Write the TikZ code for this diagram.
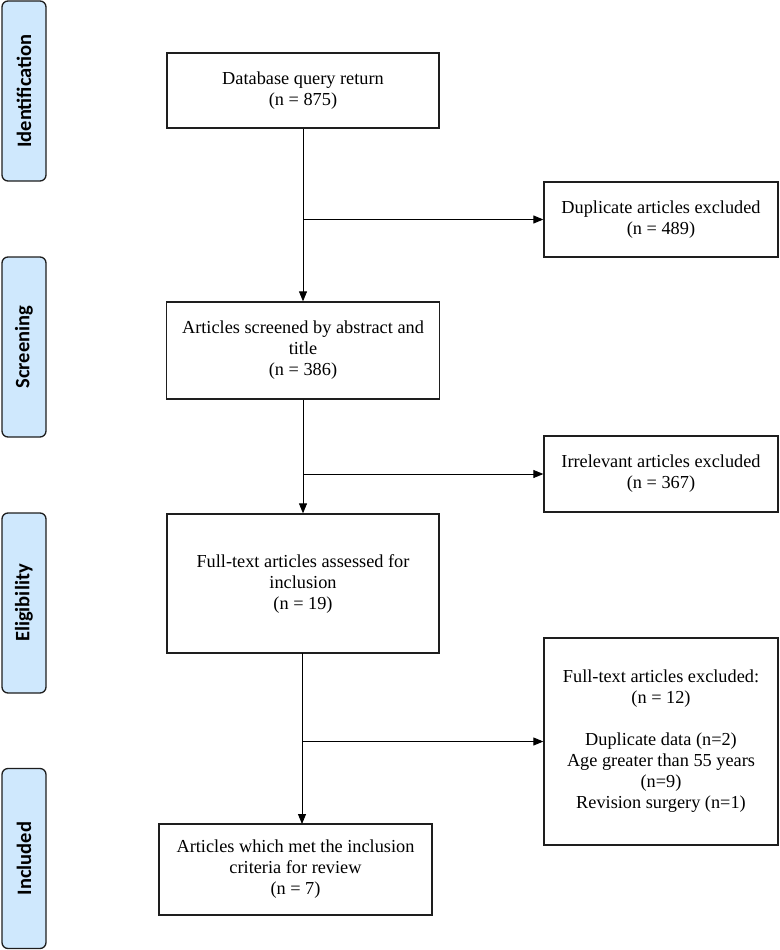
\documentclass[tikz,border=0pt]{standalone}
\usepackage{fontspec}
\setmainfont{Liberation Serif}
\newfontfamily\labfont{Carlito}
\usetikzlibrary{arrows.meta,positioning}
\definecolor{phasefill}{RGB}{207,232,253}
\definecolor{edgegray}{RGB}{30,30,30}
\begin{document}
\begin{tikzpicture}[x=1pt,y=-1pt,
  box/.style={draw=edgegray,line width=1.3pt,fill=white,inner sep=0pt,align=center,
    font=\fontsize{18.3}{21}\selectfont},
  phase/.style={draw=edgegray,line width=1.3pt,fill=phasefill,rounded corners=6pt,
    minimum width=44pt,minimum height=180pt,inner sep=0pt},
  phasetext/.style={rotate=90,font=\labfont\bfseries\fontsize{20.5}{24}\selectfont},
  conn/.style={draw=black,line width=0.9pt},
  arr/.style={conn,-{Triangle[length=10pt,width=8pt]}}]
\useasboundingbox (0,0) rectangle (779,950);
% phase labels
\node[phase] (pid) at (24,91) {};
\node[phasetext] at (pid.center) {Identification};
\node[phase] (psc) at (24,347) {};
\node[phasetext] at (psc.center) {Screening};
\node[phase] (pel) at (24,603) {};
\node[phasetext] at (pel.center) {Eligibility};
\node[phase] (pin) at (24,858.5) {};
\node[phasetext] at (pin.center) {Included};
% main boxes
\node[box,minimum width=272pt,minimum height=75pt] (b1) at (303,90.5)
  {Database query return\\(n = 875)};
\node[box,minimum width=273pt,minimum height=97pt] (b2) at (303,350.5)
  {Articles screened by abstract and\\title\\(n = 386)};
\node[box,minimum width=272pt,minimum height=139pt] (b3) at (303,583.5)
  {Full-text articles assessed for\\inclusion\\(n = 19)};
\node[box,minimum width=273pt,minimum height=91pt] (b4) at (295.5,869.5)
  {Articles which met the inclusion\\criteria for review\\(n = 7)};
% exclusion boxes
\node[box,minimum width=234pt,minimum height=75pt] (e1) at (661,219.5)
  {Duplicate articles excluded\\(n = 489)};
\node[box,minimum width=234pt,minimum height=76pt] (e2) at (661,474)
  {Irrelevant articles excluded\\(n = 367)};
\node[box,minimum width=234pt,minimum height=207pt] (e3) at (661,741.5)
  {Full-text articles excluded:\\(n = 12)\\[21pt]Duplicate data (n=2)\\Age greater than 55 years\\(n=9)\\Revision surgery (n=1)};
% branch points
\coordinate (j1) at (b1.south |- e1.west);
\coordinate (j2) at (b2.south |- e2.west);
\coordinate (j3) at (302,741.5);
% connectors
\draw[arr] (b1.south) -- (b2.north);
\draw[arr] (j1) -- (e1.west);
\draw[arr] (b2.south) -- (b3.north);
\draw[arr] (j2) -- (e2.west);
\draw[arr] (302,653) -- (302,824);
\draw[arr] (j3) -- (e3.west);
\end{tikzpicture}
\end{document}
